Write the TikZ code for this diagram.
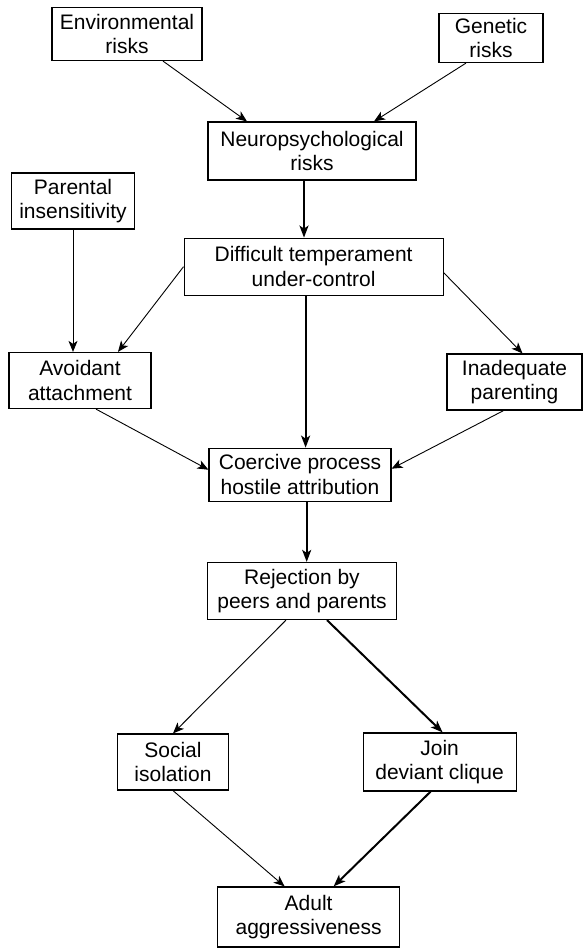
\documentclass[tikz,border=0pt]{standalone}
\usepackage{fontspec}
\setmainfont{Liberation Sans}
\usetikzlibrary{arrows.meta}

\begin{document}
\begin{tikzpicture}[x=1pt,y=-1pt,
    box/.style={rectangle,draw,line width=1.2pt,align=center,inner sep=2pt,
        minimum height=56pt,font=\fontsize{21}{24.5}\selectfont},
    thin/.style={-{Stealth[length=11pt,width=9pt,inset=3pt]},line width=0.9pt},
    thickarr/.style={-{Stealth[length=12pt,width=9pt,inset=3pt]},line width=2pt}]
    \useasboundingbox (0,0) rectangle (583,948);
    % Risk factors
    \node[box,minimum width=150pt,minimum height=53pt] (Env) at (127,34) {Environmental\\risks};
    \node[box,minimum width=104pt,minimum height=49pt] (Gen) at (491,38) {Genetic\\risks};
    \node[box,minimum width=208pt,minimum height=58pt] (Neuro) at (312,151) {Neuropsychological\\risks};
    \node[box,minimum width=123pt] (Parent) at (73,201) {Parental\\insensitivity};
    \node[box,minimum width=259pt,minimum height=57pt] (Temper) at (313.6,266.7) {Difficult temperament\\under-control};
    \node[box,minimum width=142pt] (Avoid) at (80,380.5) {Avoidant\\attachment};
    \node[box,minimum width=135pt] (Inadeq) at (514.5,382) {Inadequate\\parenting};
    \node[box,minimum width=182pt,minimum height=53pt] (Coerce) at (300,474.7) {Coercive process\\hostile attribution};
    \node[box,minimum width=189pt,minimum height=57pt] (Reject) at (302,591) {Rejection by\\peers and parents};
    \node[box,minimum width=111pt] (Social) at (173,762) {Social\\isolation};
    \node[box,minimum width=153pt,minimum height=58pt] (Join) at (439.6,762) {Join\\deviant clique};
    \node[box,minimum width=182pt,minimum height=60pt] (Adult) at (308.6,917) {Adult\\aggressiveness};

    % Pathways
    \draw[thin] ([xshift=36pt]Env.south) -- ([xshift=-65pt]Neuro.north);
    \draw[thin] ([xshift=-25pt]Gen.south) -- ([xshift=62pt]Neuro.north);
    \draw[thickarr] ([xshift=-8pt]Neuro.south) -- ([xshift=-9.6pt]Temper.north);
    \draw[thin] (Parent) -- (Parent |- Avoid.north);
    \draw[thin] (Temper.west) -- ([xshift=38pt]Avoid.north);
    \draw[thin] ([yshift=-6pt]Temper.east) -- ([xshift=8pt]Inadeq.north);
    \draw[thickarr] ([xshift=-8pt]Temper.south) -- ([xshift=5.6pt]Coerce.north);
    \draw[thin] ([xshift=16pt]Avoid.south) -- ([yshift=5pt]Coerce.west);
    \draw[thin] ([xshift=-11pt]Inadeq.south) -- ([yshift=6pt]Coerce.east);
    \draw[thickarr] ([xshift=6.7pt]Coerce.south) -- ([xshift=4.7pt]Reject.north);
    \draw[thin] ([xshift=-16pt]Reject.south) -- (Social.north);
    \draw[thickarr] ([xshift=25pt]Reject.south) -- ([xshift=3pt]Join.north);
    \draw[thin] (Social.south) -- ([xshift=-24pt]Adult.north);
    \draw[thickarr] ([xshift=-9pt]Join.south) -- ([xshift=25pt]Adult.north);
\end{tikzpicture}
\end{document}
